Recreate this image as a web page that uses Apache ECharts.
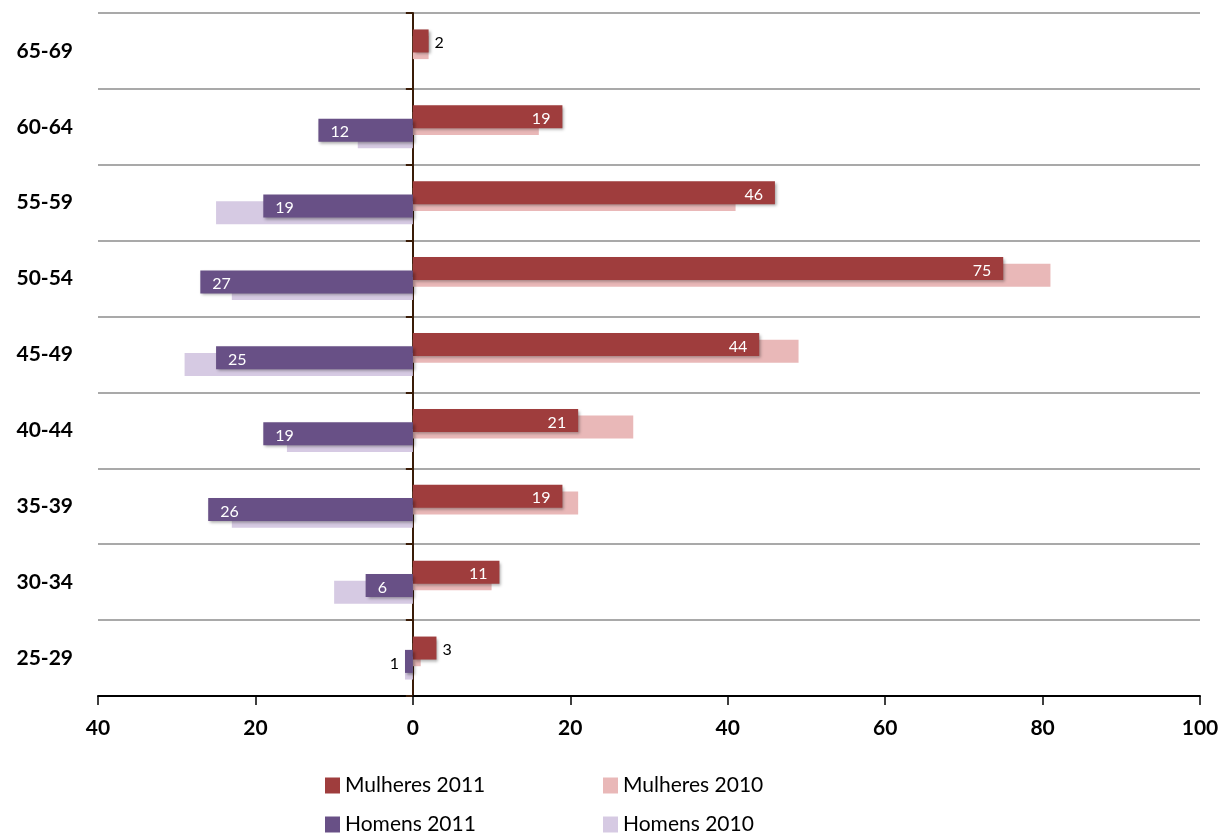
<!DOCTYPE html>
<html>
<head>
<meta charset="utf-8">
<script src="https://cdn.jsdelivr.net/npm/echarts@6/dist/echarts.min.js"></script>
<style>
html,body{margin:0;padding:0;background:#fff;}
#chart{width:1222px;height:834px;}
</style>
</head>
<body>
<div id="chart"></div>
<script>
const categories = ['25-29','30-34','35-39','40-44','45-49','50-54','55-59','60-64','65-69'];
const mulheres2011 = [3, 11, 19, 21, 44, 75, 46, 19, 2];
const mulheres2010 = [1, 10, 21, 28, 49, 81, 41, 16, 2];
const homens2011 = [1, 6, 26, 19, 25, 27, 19, 12, null];
const homens2010 = [1, 10, 23, 16, 29, 23, 25, 7, null];
const xTicks = { min: -40, max: 100, interval: 20 };

const FONT = 'Lato';
const C_M11 = '#9f3d3d', C_M10 = '#e9b8b8', C_H11 = '#685086', C_H10 = '#d6cae3';

const neg = arr => arr.map(v => v == null ? '-' : -v);
const smallThreshold = 4;

function labelledData(arr, isNeg) {
  return arr.map(v => {
    if (v == null) return '-';
    const val = isNeg ? -v : v;
    if (v < smallThreshold) {
      return { value: val, label: { show: true, position: isNeg ? 'left' : 'right', color: '#000', distance: 6 } };
    }
    return { value: val, label: { show: true, position: isNeg ? 'insideLeft' : 'insideRight', color: '#fff', distance: 12 } };
  });
}

const shadow = { shadowBlur: 3, shadowOffsetX: 2, shadowOffsetY: 2, shadowColor: 'rgba(0,0,0,0.35)' };
const labelBase = { show: true, fontFamily: FONT, fontSize: 16, offset: [0, 2], formatter: p => Math.abs(p.value) };

const chart = echarts.init(document.getElementById('chart'));
const legendCommon = {
  orient: 'horizontal', icon: 'rect', itemWidth: 15, itemHeight: 16, padding: 0,
  textStyle: { fontFamily: FONT, fontSize: 21, color: '#000' }, selectedMode: false
};
chart.setOption({
  animation: false,
  backgroundColor: '#fff',
  grid: { left: 98, right: 22, top: 13, bottom: 138, containLabel: false },
  legend: [
    Object.assign({ data: ['Mulheres 2011'], left: 325, top: 775 }, legendCommon),
    Object.assign({ data: ['Mulheres 2010'], left: 603, top: 775 }, legendCommon),
    Object.assign({ data: ['Homens 2011'], left: 325, top: 814 }, legendCommon),
    Object.assign({ data: ['Homens 2010'], left: 603, top: 814 }, legendCommon)
  ],
  xAxis: {
    type: 'value', min: xTicks.min, max: xTicks.max, interval: xTicks.interval,
    axisLine: { show: true, onZero: false, lineStyle: { color: '#000', width: 2 } },
    axisTick: { show: true, length: 9, lineStyle: { color: '#000', width: 1.5 } },
    axisLabel: { fontFamily: FONT, fontWeight: 'bold', fontSize: 21, color: '#000', margin: 22,
      formatter: v => Math.abs(v) },
    splitLine: { show: false }
  },
  yAxis: [
    {
      type: 'category', data: categories, boundaryGap: true,
      axisLine: { show: false, onZero: false },
      axisTick: { show: false },
      axisLabel: { fontFamily: FONT, fontWeight: 'bold', fontSize: 21, color: '#000', margin: 25 },
      splitLine: { show: true, lineStyle: { color: '#8c8c8c', width: 1.5 } }
    },
    {
      type: 'category', data: categories, boundaryGap: true, position: 'left',
      axisLine: { show: true, onZero: true, lineStyle: { color: '#3a1c08', width: 2 } },
      axisTick: { show: true, length: 7, lineStyle: { color: '#3a1c08', width: 2 } },
      axisLabel: { show: false },
      splitLine: { show: false }
    }
  ],
  series: [
    { name: 'Mulheres 2011', type: 'bar', barWidth: 23, barGap: '-71%', z: 3,
      data: labelledData(mulheres2011, false), itemStyle: Object.assign({ color: C_M11 }, shadow),
      label: labelBase },
    { name: 'Mulheres 2010', type: 'bar', barWidth: 23, barGap: '-71%', z: 2,
      data: mulheres2010, itemStyle: { color: C_M10 } },
    { name: 'Homens 2011', type: 'bar', barWidth: 23, barGap: '-71%', z: 3,
      data: labelledData(homens2011, true), itemStyle: Object.assign({ color: C_H11 }, shadow),
      label: labelBase },
    { name: 'Homens 2010', type: 'bar', barWidth: 23, barGap: '-71%', z: 2,
      data: neg(homens2010), itemStyle: { color: C_H10 } }
  ]
});
</script>
</body>
</html>
